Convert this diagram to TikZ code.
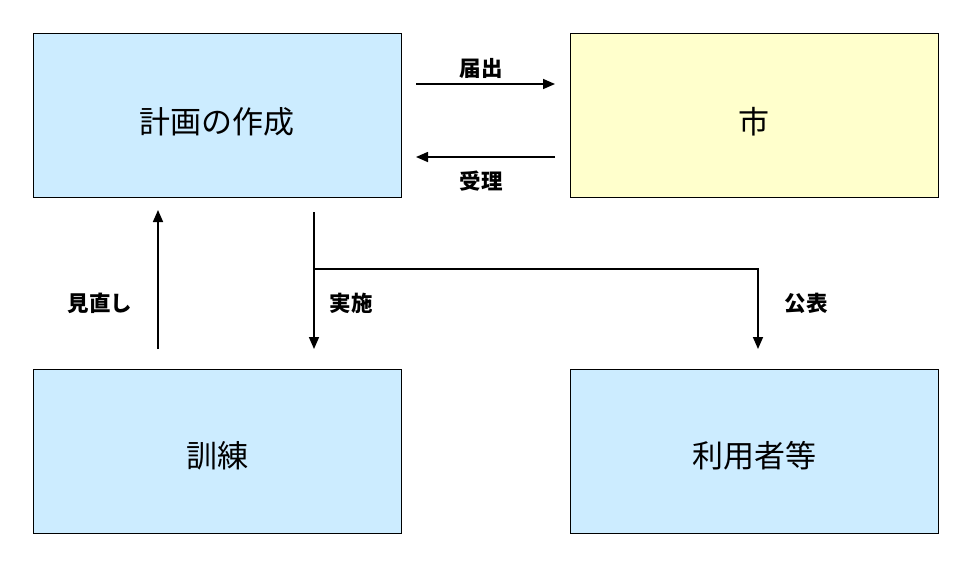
\documentclass[tikz,border=0pt]{standalone}
\usepackage{fontspec}
\setmainfont{Noto Sans CJK JP}
\usetikzlibrary{arrows.meta}
\definecolor{boxblue}{HTML}{CCECFF}
\definecolor{boxyellow}{HTML}{FFFFCC}
\tikzset{
  box/.style={draw=black, line width=0.9pt, minimum width=368pt, minimum height=164pt, inner sep=0pt},
  maintext/.style={font=\fontsize{31}{31}\selectfont},
  lbl/.style={font=\bfseries\fontsize{21.5}{21.5}\selectfont},
  conn/.style={line width=1.6pt, -{Triangle[length=12pt,width=10pt]}},
  plain/.style={line width=1.6pt}
}
\begin{document}
\begin{tikzpicture}[x=1pt,y=-1pt]
\useasboundingbox (0,0) rectangle (970,566);
\node[box, fill=boxblue] (plan) at (217,115) {};
\node[box, fill=boxyellow] (city) at (754,115) {};
\node[box, fill=boxblue] (drill) at (217,451) {};
\node[box, fill=boxblue] (users) at (754,451) {};
\node[maintext] (plant) at (217,122) {計画の作成};
\node[maintext] (cityt) at (754,122) {市};
\node[maintext] (drillt) at (217,456) {訓練};
\node[maintext] (userst) at (754,456) {利用者等};
\coordinate (r1s) at (416,84);
\coordinate (r1e) at (555,84);
\coordinate (r2s) at (555,157);
\coordinate (r2e) at (416,157);
\coordinate (upS) at (158,349);
\coordinate (upE) at (158,210);
\coordinate (dnS) at (314,212);
\coordinate (dnE) at (314,349);
\coordinate (br) at (314,269);
\coordinate (corner) at (758,269);
\coordinate (pubE) at (758,349);
\draw[conn] (r1s) -- (r1e);
\draw[conn] (r2s) -- (r2e);
\draw[conn] (upS) -- (upE);
\draw[conn] (dnS) -- (dnE);
\draw[conn] (br) -- (corner) -- (pubE);
\node[lbl] (l1) at (481,68) {届出};
\node[lbl] (l2) at (481,181) {受理};
\node[lbl] (l3) at (100,303) {見直し};
\node[lbl] (l4) at (351,303) {実施};
\node[lbl] (l5) at (806,303) {公表};
\end{tikzpicture}
\end{document}
